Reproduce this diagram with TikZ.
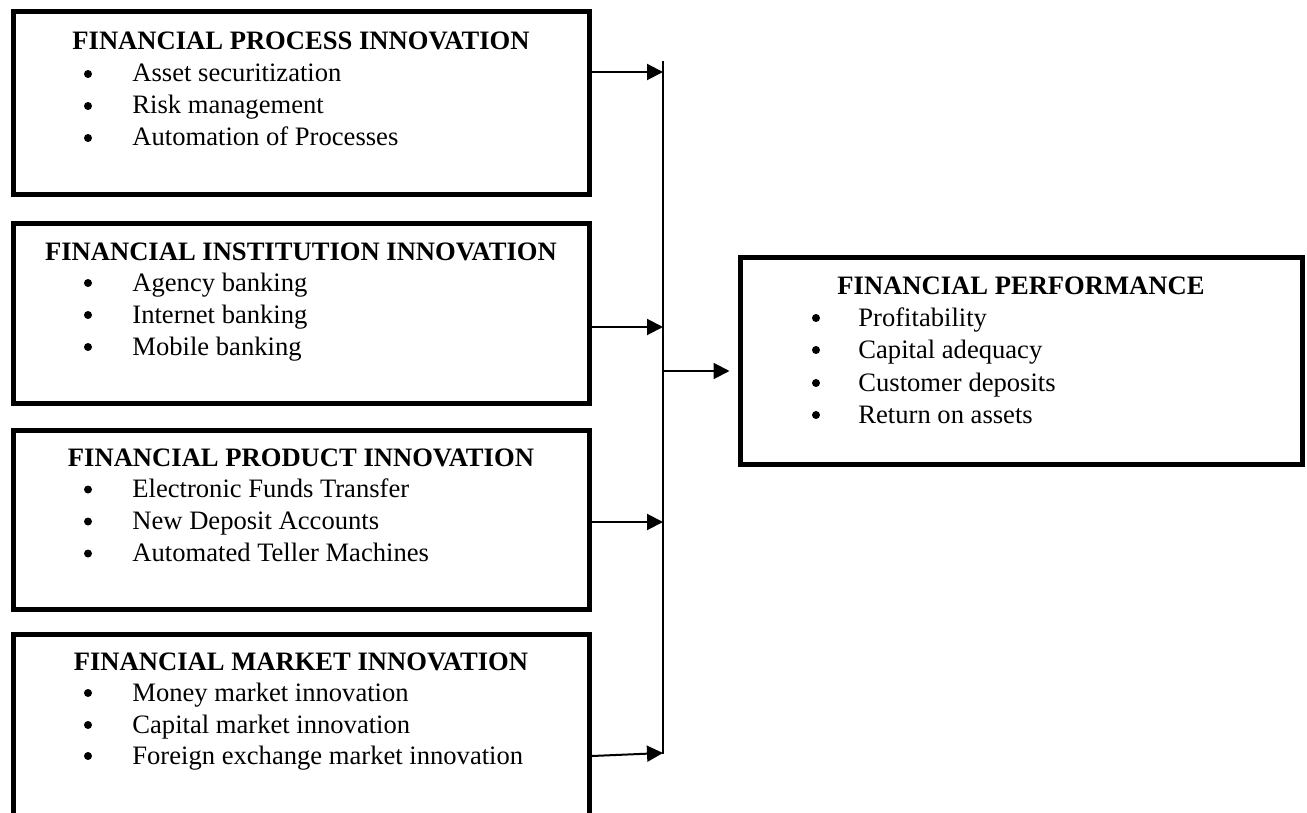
\documentclass[tikz,border=0pt]{standalone}
\usepackage{fontspec}
\setmainfont{Liberation Serif}
\usetikzlibrary{arrows.meta}

\begin{document}
\begin{tikzpicture}[x=0.5pt,y=-0.5pt,
  font=\fontsize{13.3pt}{16pt}\selectfont,
  frame/.style={draw,line width=2.5pt,inner sep=0pt,minimum width=288pt},
  head/.style={font=\fontsize{13.3pt}{16pt}\selectfont\bfseries,anchor=base,inner sep=0pt},
  dot/.style={circle,fill,inner sep=0pt,minimum size=4pt},
  item/.style={anchor=base west,inner sep=0pt},
  feed/.style={line width=1pt,-{Triangle[length=8pt,width=8pt]}},
  bus/.style={line width=0.75pt}]

\useasboundingbox (0,0) rectangle (1307,813);

% ---- input blocks ----
\node[frame,minimum height=91pt]   (proc) at (301,103)   {};
\node[frame,minimum height=90pt]   (inst) at (301,313)   {};
\node[frame,minimum height=89.5pt] (prod) at (301,519.5) {};
\node[frame,minimum height=90.5pt] (mark) at (301,724.5) {};

% ---- outcome block ----
\node[frame,minimum width=281pt,minimum height=103.5pt] (perf) at (1021,360.5) {};

% ---- texts: process ----
\node[head] (procT) at (301,50) {FINANCIAL PROCESS INNOVATION};
\node[dot] (procB1) at (88,74)  {}; \node[item] (procI1) at (132,82)  {Asset securitization};
\node[dot] (procB2) at (88,106) {}; \node[item] (procI2) at (132,114) {Risk management};
\node[dot] (procB3) at (88,138) {}; \node[item] (procI3) at (132,146) {Automation of Processes};

% ---- texts: institution ----
\node[head] (instT) at (301,260) {FINANCIAL INSTITUTION INNOVATION};
\node[dot] (instB1) at (88,283) {}; \node[item] (instI1) at (132,291) {Agency banking};
\node[dot] (instB2) at (88,315) {}; \node[item] (instI2) at (132,323) {Internet banking};
\node[dot] (instB3) at (88,347) {}; \node[item] (instI3) at (132,355) {Mobile banking};

% ---- texts: product ----
\node[head] (prodT) at (301,466) {FINANCIAL PRODUCT INNOVATION};
\node[dot] (prodB1) at (88,489.5) {}; \node[item] (prodI1) at (132,497.5) {Electronic Funds Transfer};
\node[dot] (prodB2) at (88,521.5) {}; \node[item] (prodI2) at (132,529.5) {New Deposit Accounts};
\node[dot] (prodB3) at (88,553.5) {}; \node[item] (prodI3) at (132,561.5) {Automated Teller Machines};

% ---- texts: market ----
\node[head] (markT) at (301,670) {FINANCIAL MARKET INNOVATION};
\node[dot] (markB1) at (88,693) {}; \node[item] (markI1) at (132,701) {Money market innovation};
\node[dot] (markB2) at (88,725) {}; \node[item] (markI2) at (132,733) {Capital market innovation};
\node[dot] (markB3) at (88,756) {}; \node[item] (markI3) at (132,764) {Foreign exchange market innovation};

% ---- texts: performance ----
\node[head] (perfT) at (1021,294) {FINANCIAL PERFORMANCE};
\node[dot] (perfB1) at (816,318) {}; \node[item] (perfI1) at (858,326) {Profitability};
\node[dot] (perfB2) at (816,350) {}; \node[item] (perfI2) at (858,358) {Capital adequacy};
\node[dot] (perfB3) at (816,383) {}; \node[item] (perfI3) at (858,391) {Customer deposits};
\node[dot] (perfB4) at (816,415) {}; \node[item] (perfI4) at (858,423) {Return on assets};

% ---- collecting bus ----
\coordinate (busTop) at (663,61);
\coordinate (busBot) at (663,754);
\draw[bus] (busTop) -- (busBot);

\coordinate (jProc) at (663,72);
\coordinate (jInst) at (663,327);
\coordinate (jProd) at (663,522);
\coordinate (jMark) at (663,753);
\coordinate (mStart) at (592,756);
\coordinate (jOut)  at (663,371);

\draw[feed] (proc.east |- jProc) -- (jProc);
\draw[feed] (inst.east |- jInst) -- (jInst);
\draw[feed] (prod.east |- jProd) -- (jProd);
\draw[feed] (mStart) -- (jMark);
\draw[feed,shorten >=4pt] (jOut) -- (perf.west |- jOut);

\end{tikzpicture}
\end{document}
